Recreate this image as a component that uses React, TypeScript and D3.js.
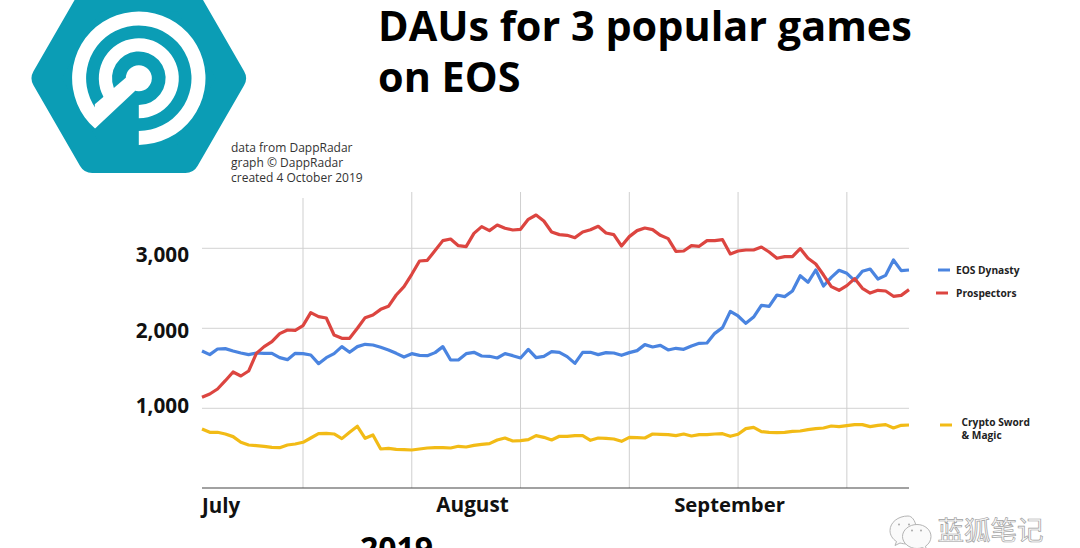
import React from "react";
import * as d3 from "d3";

const eosDynasty = [1716,1671,1741,1746,1716,1691,1671,1691,1687,1687,1633,1608,1687,1683,1666,1558,1633,1683,1771,1700,1771,1800,1791,1762,1729,1687,1641,1683,1662,1658,1696,1771,1604,1604,1683,1700,1654,1650,1629,1683,1658,1629,1737,1633,1650,1708,1700,1646,1562,1700,1700,1671,1696,1691,1662,1696,1721,1796,1766,1787,1729,1750,1737,1779,1812,1816,1937,2008,2212,2154,2062,2141,2287,2275,2416,2396,2466,2658,2575,2729,2529,2637,2725,2687,2596,2712,2741,2616,2662,2854,2721,2729];
const prospectors = [1137,1179,1241,1345,1454,1404,1466,1687,1771,1833,1933,1979,1975,2033,2196,2146,2129,1916,1875,1875,2000,2133,2166,2237,2275,2416,2521,2675,2841,2850,2971,3096,3116,3033,3021,3187,3271,3221,3291,3250,3229,3237,3362,3416,3341,3204,3171,3162,3133,3204,3233,3275,3191,3171,3029,3146,3221,3254,3233,3162,3121,2962,2966,3033,3025,3096,3096,3108,2929,2966,2979,2979,3016,2954,2875,2896,2896,2996,2875,2804,2666,2521,2475,2533,2621,2500,2441,2475,2466,2400,2412,2483];
const cryptoSword = [741,700,700,679,646,575,541,533,525,512,508,541,554,575,629,683,687,679,621,700,775,625,666,491,500,487,483,479,491,504,508,508,504,525,516,537,550,558,604,629,591,596,608,658,637,604,650,650,658,658,600,629,625,616,587,637,633,629,679,675,671,658,679,654,671,671,679,683,650,675,746,762,708,700,696,700,712,716,733,746,754,779,771,783,796,796,771,787,796,754,787,791];

const yTicks = [1000, 2000, 3000];
const gridDates = ["2019-07-14","2019-07-28","2019-08-11","2019-08-25","2019-09-08","2019-09-22"];
const titleLines = ["DAUs for 3 popular games", "on EOS"];
const creditLines = ["data from DappRadar", "graph © DappRadar", "created 4 October 2019"];
const BLUE = "#4a84e0", RED = "#dc4540", YELLOW = "#f2bb16", TEAL = "#0b9db5";
const FONT = "'Open Sans', 'Noto Sans', sans-serif";

const x = d3.scaleUtc().domain([new Date("2019-07-01"), new Date("2019-09-30")]).range([202, 909]);
const y = d3.scaleLinear().domain([0, 3000]).range([488.3, 248.3]);
const labelY = d3.scaleLinear().domain([1000, 3000]).range([413, 262]);
const fmt = d3.format(",");
const line = d3.line<number>()
  .x((_, i) => x(d3.utcDay.offset(new Date("2019-07-01"), i)))
  .y((d) => y(d));

const cx = 138.8, cy = 78.2, hexR = 93.2;
const hex = d3.range(6).map((i) => {
  const a = (i * Math.PI) / 3;
  return [cx + hexR * Math.cos(a), cy + hexR * Math.sin(a)];
});
const deg = (v: number) => (v * Math.PI) / 180;
const arc = d3.arc();
const outerRing = arc({ innerRadius: 52.7, outerRadius: 66.7, startAngle: deg(221), endAngle: deg(540) } as any)!;
const midRing = arc({ innerRadius: 26.8, outerRadius: 40, startAngle: deg(222), endAngle: deg(540) } as any)!;

export default function App() {
  const series = [
    { key: "eos", values: eosDynasty, color: BLUE },
    { key: "yellow", values: cryptoSword, color: YELLOW },
    { key: "pros", values: prospectors, color: RED },
  ];
  return (
    <svg width={1080} height={548} viewBox="0 0 1080 548"
      style={{ position: "absolute", left: 0, top: 0, display: "block", background: "#fff" }}
      fontFamily={FONT}>
      {/* logo */}
      <polygon points={hex.map((p) => p.join(",")).join(" ")} fill={TEAL} stroke={TEAL} strokeWidth={28} strokeLinejoin="round" />
      <g transform={`translate(${cx},${cy})`} fill="#fff">
        <path d={outerRing} />
        <path d={midRing} />
        <circle r={13} />
        <polygon points="-43.5,50 -3.5,12.5 -13,-0.5 -44,26" />
      </g>

      {/* titles */}
      {titleLines.map((t, i) => (
        <text key={t} x={378} y={40.5 + i * 51.5} fontSize={41.4} fontWeight={700} fill="#000">{t}</text>
      ))}
      {creditLines.map((t, i) => (
        <text key={t} x={231} y={152 + i * 15} fontSize={12} fill="#333">{t}</text>
      ))}

      {/* grid */}
      {yTicks.map((v) => (
        <line key={v} x1={202} x2={909} y1={y(v)} y2={y(v)} stroke="#d2d2d2" strokeWidth={1} />
      ))}
      {gridDates.map((d, i) => (
        <line key={d} x1={x(new Date(d))} x2={x(new Date(d))} y1={i === 0 ? 198 : 192} y2={488} stroke="#cfcfcf" strokeWidth={1} />
      ))}
      <line x1={202} x2={909} y1={488} y2={488} stroke="#444" strokeWidth={1.2} />

      {/* y labels */}
      {yTicks.map((v) => (
        <text key={v} x={189} y={labelY(v)} textAnchor="end" fontSize={20.7} fontWeight={700} fill="#111">{fmt(v)}</text>
      ))}

      {/* series */}
      {series.map((s) => (
        <path key={s.key} d={line(s.values)!} fill="none" stroke={s.color} strokeWidth={3.2} strokeLinejoin="round" />
      ))}

      {/* month labels */}
      <text x={202} y={513} fontSize={20.5} fontWeight={700} fill="#111">July</text>
      <text x={472.5} y={512} textAnchor="middle" fontSize={20.7} fontWeight={700} fill="#111">August</text>
      <text x={729.5} y={512} textAnchor="middle" fontSize={20.3} fontWeight={700} fill="#111">September</text>
      <text x={396.5} y={560} textAnchor="middle" fontSize={32} fontWeight={700} fill="#000">2019</text>

      {/* legend */}
      <line x1={938} x2={950} y1={270} y2={270} stroke={BLUE} strokeWidth={3} />
      <text x={956} y={273.5} fontSize={10.2} fontWeight={700} fill="#222">EOS Dynasty</text>
      <line x1={936} x2={948} y1={293} y2={293} stroke={RED} strokeWidth={3} />
      <text x={956} y={297} fontSize={10.2} fontWeight={700} fill="#222">Prospectors</text>
      <line x1={940} x2={952} y1={425} y2={425} stroke={YELLOW} strokeWidth={3} />
      <text x={961.5} y={425.5} fontSize={10.2} fontWeight={700} fill="#222">Crypto Sword</text>
      <text x={961.5} y={438.5} fontSize={10.2} fontWeight={700} fill="#222">&amp; Magic</text>

      {/* watermark */}
      <g fill="#fafafa" stroke="#b4b4b4" strokeWidth={1}>
        <path d="M908 516c-10 0-18 6.500-18 14.500 0 4.500 2.500 8.500 6.500 11l-1.500 4 5-2.500c2 .6 5 1 8 1 6 0 10-2 10-2l-2-16c-1-5.500-4-10-8-10z" />
        <path d="M917 524.500c-8 0-14.500 5.500-14.500 12s6.500 12 14.500 12c2 0 4-.3 5.500-1l4 2.500-1-3.800c3.500-2.200 5.500-5.800 5.500-9.700 0-6.500-6-12-14-12z" />
      </g>
      <g fill="#aaa">
        <circle cx={899} cy={524.500} r={1} /><circle cx={909} cy={524.500} r={1} />
        <circle cx={912} cy={530.500} r={1} /><circle cx={921} cy={530.500} r={1} />
      </g>
      <text x={937.500} y={540} fontFamily="'Noto Sans CJK SC', sans-serif" fontSize={26.500} fill="#fbfbfb" stroke="#a0a0a0" strokeWidth={0.7}>蓝狐笔记</text>
    </svg>
  );
}
